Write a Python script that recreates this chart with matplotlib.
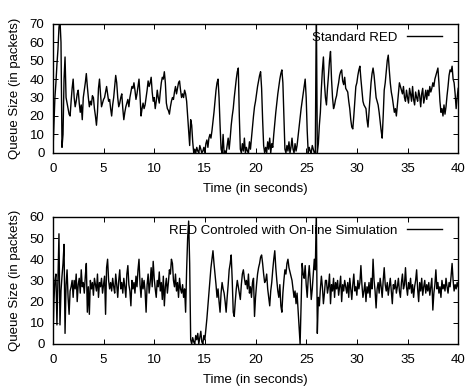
import numpy as np
import matplotlib
matplotlib.use("Agg")
from matplotlib import pyplot as plt

plt.rcParams['font.family'] = ['Liberation Sans', 'DejaVu Sans']
plt.rcParams['font.size'] = 9.5

# queue size sampled every 0.1 s, one row per second
red_std = [
    0, 15, 30, 38, 48, 56, 68, 72, 60, 3,
    10, 40, 52, 30, 27, 24, 21, 20, 28, 35,
    40, 30, 25, 28, 32, 34, 27, 22, 26, 18,
    30, 34, 38, 43, 36, 30, 25, 28, 26, 31,
    30, 24, 20, 15, 22, 35, 40, 32, 25, 27,
    29, 30, 33, 36, 32, 28, 29, 24, 20, 26,
    30, 36, 42, 38, 30, 25, 27, 30, 32, 24,
    18, 22, 25, 27, 29, 25, 30, 33, 36, 35,
    38, 34, 29, 32, 36, 40, 31, 20, 24, 27,
    24, 26, 30, 34, 39, 36, 38, 41, 33, 28,
    30, 24, 28, 34, 30, 27, 33, 38, 41, 40,
    44, 38, 27, 24, 23, 21, 25, 28, 30, 29,
    33, 36, 32, 35, 38, 39, 34, 30, 32, 30,
    34, 32, 28, 20, 12, 4, 18, 15, 6, 0,
    2, 0, 3, 1, 0, 4, 2, 0, 1, 3,
    0, 5, 7, 3, 8, 10, 8, 12, 17, 22,
    28, 34, 38, 40, 30, 15, 2, 0, 10, 0,
    1, 0, 4, 8, 2, 8, 15, 20, 24, 30,
    35, 40, 44, 46, 20, 2, 0, 5, 1, 8,
    0, 3, 1, 0, 6, 2, 8, 14, 20, 25,
    28, 32, 36, 39, 42, 44, 35, 18, 4, 0,
    3, 0, 6, 2, 8, 0, 5, 3, 10, 16,
    22, 27, 32, 36, 40, 43, 45, 38, 20, 2,
    0, 4, 1, 6, 0, 3, 8, 2, 0, 5,
    1, 4, 9, 14, 19, 24, 28, 32, 36, 40,
    30, 12, 0, 3, 1, 0, 4, 2, 0, 0,
    80, 0, 5, 15, 22, 35, 45, 52, 38, 30,
    26, 35, 42, 50, 55, 40, 30, 24, 26, 29,
    31, 35, 38, 42, 44, 45, 39, 37, 41, 35,
    34, 33, 28, 24, 18, 14, 13, 20, 28, 36,
    38, 42, 45, 47, 40, 34, 28, 26, 25, 24,
    18, 14, 22, 30, 38, 43, 46, 42, 36, 30,
    28, 26, 22, 17, 12, 8, 20, 34, 38, 44,
    50, 53, 45, 38, 33, 30, 26, 22, 24, 20,
    26, 32, 38, 36, 34, 32, 36, 30, 28, 34,
    30, 27, 35, 32, 28, 36, 29, 26, 33, 30,
    28, 34, 31, 25, 32, 35, 27, 30, 34, 29,
    34, 31, 36, 33, 35, 38, 36, 40, 42, 44,
    46, 38, 28, 22, 24, 20, 26, 21, 25, 31,
    36, 42, 45, 44, 47, 40, 38, 32, 24, 30,
    35,
]

red_sim = [
    0, 20, 30, 33, 9, 30, 52, 9, 25, 32,
    38, 47, 5, 28, 35, 22, 14, 25, 27, 30,
    22, 30, 26, 33, 20, 28, 31, 24, 35, 27,
    29, 24, 32, 38, 15, 27, 14, 30, 26, 29,
    23, 31, 28, 25, 33, 22, 29, 27, 31, 24,
    28, 32, 14, 36, 40, 30, 26, 29, 25, 31,
    27, 24, 33, 28, 22, 30, 35, 26, 29, 24,
    31, 27, 22, 33, 37, 28, 25, 18, 30, 26,
    29, 24, 32, 27, 35, 40, 28, 22, 31, 26,
    30, 25, 15, 28, 33, 24, 29, 36, 27, 39,
    31, 26, 22, 30, 27, 34, 25, 29, 21, 32,
    18, 27, 31, 24, 29, 35, 33, 40, 38, 30,
    27, 33, 25, 29, 22, 31, 26, 24, 28, 22,
    26, 15, 35, 50, 58, 38, 2, 0, 3, 1,
    0, 4, 2, 5, 0, 3, 6, 1, 0, 4,
    2, 7, 12, 18, 24, 30, 36, 40, 44, 38,
    33, 28, 22, 26, 20, 15, 24, 29, 26, 24,
    20, 15, 22, 28, 35, 38, 42, 30, 15, 13,
    20, 26, 30, 27, 24, 21, 28, 33, 35, 31,
    28, 30, 26, 33, 24, 27, 22, 29, 31, 13,
    22, 28, 33, 36, 38, 41, 42, 38, 33, 29,
    30, 33, 26, 22, 18, 25, 29, 35, 40, 44,
    36, 30, 25, 22, 28, 18, 15, 24, 30, 35,
    33, 38, 40, 36, 34, 32, 30, 26, 22, 25,
    19, 24, 16, 8, 0, 20, 38, 33, 31, 37,
    28, 22, 31, 37, 30, 21, 26, 33, 40, 35,
    62, 5, 22, 18, 26, 32, 27, 19, 24, 30,
    30, 24, 27, 33, 19, 28, 25, 31, 22, 29,
    26, 30, 23, 27, 32, 20, 28, 25, 30, 27,
    24, 29, 22, 31, 26, 21, 28, 33, 25, 27,
    23, 30, 26, 29, 37, 28, 22, 25, 29, 20,
    27, 24, 29, 22, 31, 26, 40, 30, 25, 17,
    26, 29, 24, 31, 27, 22, 30, 36, 28, 25,
    29, 23, 27, 31, 25, 19, 28, 26, 30, 24,
    27, 31, 25, 22, 29, 33, 26, 28, 36, 27,
    23, 29, 26, 31, 24, 28, 22, 27, 30, 35,
    26, 20, 29, 25, 31, 23, 27, 30, 24, 28,
    25, 29, 23, 27, 31, 16, 24, 28, 35, 26,
    29, 24, 27, 22, 30, 26, 28, 25, 31, 27,
    24, 29, 27, 32, 38, 30, 25, 28, 26, 29,
    27,
]

panels = [
    (red_std, 'Standard RED', 70),
    (red_sim, 'RED Controled with On-line Simulation', 60),
]

fig = plt.figure(figsize=(4.68, 3.9), dpi=100)
rects = [
    [0.113, 0.608, 0.866, 0.331],
    [0.113, 0.118, 0.866, 0.326],
]

for (q, name, ymax), rect in zip(panels, rects):
    ax = fig.add_axes(rect)
    t = np.linspace(0, 40, len(q))
    ax.plot(t, q, color='black', lw=1.0, label=name)
    ax.set_xlim(0, 40)
    ax.set_ylim(0, ymax)
    ax.set_xticks(range(0, 41, 5))
    ax.set_yticks(range(0, ymax + 1, 10))
    ax.tick_params(direction='in', length=3.5, width=0.7,
                   top=True, right=True)
    ax.tick_params(axis='x', pad=7)
    ax.tick_params(axis='y', pad=6)
    for s in ax.spines.values():
        s.set_linewidth(1.0)
    ax.set_xlabel('Time (in seconds)', labelpad=6)
    ax.set_ylabel('Queue Size (in packets)', labelpad=6)
    ax.legend(loc='upper right', bbox_to_anchor=(0.98, 1.0), frameon=False,
              markerfirst=False, handlelength=2.7, handletextpad=0.7,
              borderpad=0, borderaxespad=0.6, fontsize=9.5)

fig.savefig('out.png', dpi=100)
